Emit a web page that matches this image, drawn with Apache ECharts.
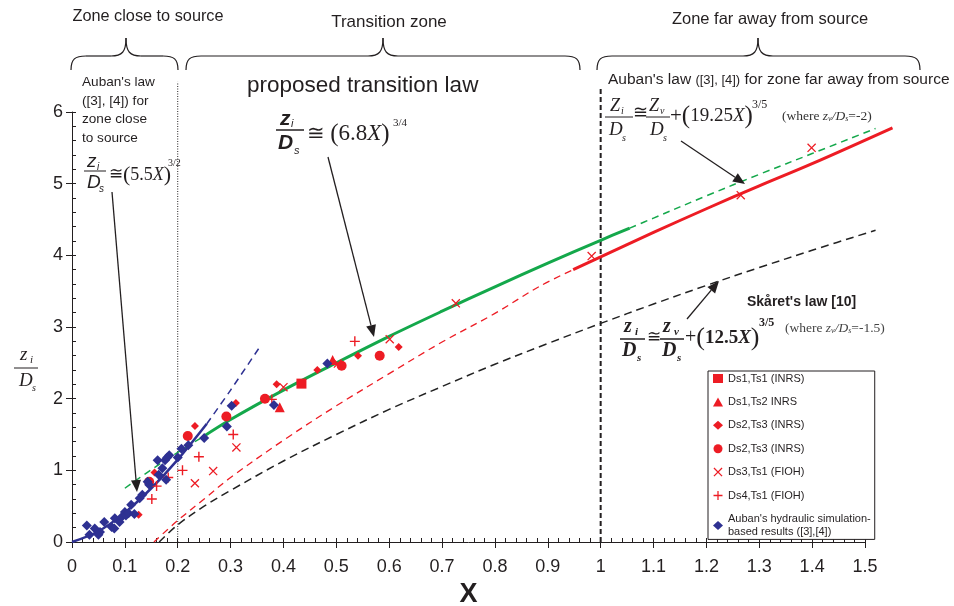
<!DOCTYPE html>
<html>
<head>
<meta charset="utf-8">
<script src="https://cdn.jsdelivr.net/npm/echarts@6/dist/echarts.min.js"></script>
<style>
html, body { margin: 0; padding: 0; background: #fff; }
#chart { width: 954px; height: 606px; }
</style>
</head>
<body>
<div id="chart"></div>
<script>
// ---- values (X, zi/Ds) ----
var xTicks = [0, 1.5, 0.1];
var yTicks = [0, 6, 1];
var zoneLimits = [0.2, 1.0];

// Auban's law, zone close to source (solid part, then dashed continuation)
var aubanNear = [[0, 0], [0.05, 0.15], [0.1, 0.41], [0.15, 0.75], [0.2, 1.15], [0.255, 1.65]];
var aubanNearExt = [[0.255, 1.65], [0.3, 2.12], [0.355, 2.72]];
// proposed transition law
var transLeft = [[0.1, 0.75], [0.15, 1.01], [0.2, 1.25], [0.248, 1.47]];
var transLaw = [[0.248, 1.47], [0.3, 1.71], [0.4, 2.12], [0.5, 2.5], [0.6, 2.87], [0.7, 3.22], [0.8, 3.56], [0.9, 3.89], [1.0, 4.21], [1.055, 4.38]];
var transRight = [[1.055, 4.38], [1.1, 4.52], [1.2, 4.83], [1.3, 5.13], [1.4, 5.42], [1.52, 5.77]];
// Auban's law, zone far away from source
var aubanFarDash = [[0.155, 0], [0.2, 0.3], [0.25, 0.6], [0.3, 0.9], [0.4, 1.42], [0.5, 1.9], [0.6, 2.35], [0.7, 2.79], [0.8, 3.19], [0.885, 3.57], [0.948, 3.8]];
var aubanFar = [[0.948, 3.8], [1.0, 3.98], [1.1, 4.32], [1.2, 4.65], [1.3, 4.97], [1.4, 5.28], [1.552, 5.78]];
// Skaret's law
var skaret = [[0.165, 0], [0.2, 0.24], [0.25, 0.5], [0.3, 0.72], [0.4, 1.13], [0.5, 1.5], [0.6, 1.85], [0.7, 2.17], [0.8, 2.48], [0.9, 2.77], [1.0, 3.05], [1.1, 3.32], [1.2, 3.58], [1.3, 3.83], [1.4, 4.07], [1.52, 4.35]];

// measurements
var ds1ts1 = [[0.434, 2.21]];
var ds1ts2 = [[0.393, 1.88], [0.493, 2.54]];
var ds2ts3Diamond = [[0.126, 0.38], [0.156, 0.97], [0.2325, 1.62], [0.31, 1.94], [0.387, 2.2], [0.464, 2.4], [0.541, 2.6], [0.618, 2.72]];
var ds2ts3Circle = [[0.146, 0.84], [0.219, 1.48], [0.292, 1.75], [0.365, 2.0], [0.51, 2.46], [0.582, 2.6]];
var ds3ts1 = [[0.2325, 0.82], [0.267, 0.99], [0.311, 1.32], [0.4, 2.16], [0.503, 2.49], [0.601, 2.83], [0.726, 3.33], [0.983, 3.99], [1.265, 4.84], [1.399, 5.5]];
var ds4ts1 = [[0.151, 0.6], [0.16, 0.78], [0.182, 0.9], [0.209, 1.0], [0.24, 1.19], [0.305, 1.5], [0.378, 1.99], [0.535, 2.8]];
var aubanSim = [[0.028, 0.23], [0.033, 0.1], [0.043, 0.19], [0.05, 0.1], [0.053, 0.14], [0.061, 0.28], [0.075, 0.21], [0.08, 0.19], [0.081, 0.33], [0.09, 0.28], [0.094, 0.35], [0.1, 0.42], [0.102, 0.37], [0.107, 0.4], [0.112, 0.52], [0.118, 0.39], [0.128, 0.61], [0.133, 0.66], [0.143, 0.84], [0.146, 0.8], [0.162, 1.14], [0.164, 0.94], [0.171, 1.03], [0.176, 1.14], [0.178, 0.87], [0.18, 1.18], [0.184, 1.21], [0.2, 1.18], [0.207, 1.3], [0.22, 1.35], [0.25, 1.45], [0.293, 1.61], [0.302, 1.9], [0.382, 1.91], [0.483, 2.49]];

var legendNames = ['Ds1,Ts1 (INRS)', 'Ds1,Ts2 INRS', 'Ds2,Ts3 (INRS)', 'Ds2,Ts3 (INRS) ', 'Ds3,Ts1 (FIOH)', 'Ds4,Ts1 (FIOH)', "Auban's hydraulic simulation-based results ([3],[4])"];

var sans = 'Liberation Sans, Arial, sans-serif';
var serif = 'Liberation Serif, Times New Roman, serif';
var ink = '#231f20';
var red = '#ed1c24', blue = '#2e3192', green = '#14a84b';

var crossPath = 'path://M0,1L1,0L10,9L9,10Z M9,0L10,1L1,10L0,9Z';
var plusPath = 'path://M4.3,0H5.7V4.3H10V5.7H5.7V10H4.3V5.7H0V4.3H4.3Z';

// curves go past x = 1.5 in the figure, so draw them as custom polylines (not clipped)
function curve(data, color, width, dash) {
    return {
        type: 'custom', data: data, silent: true, z: 2, clip: false,
        renderItem: function (params, api) {
            if (params.dataIndex !== 0) return null;
            var p = data.map(function (d) { return api.coord(d); });
            return {
                type: 'polyline', shape: { points: p, smooth: 0.35 },
                style: { fill: 'none', stroke: color, lineWidth: width, lineDash: dash || null }
            };
        }
    };
}
function pts(name, data, symbol, size, color) {
    return {
        type: 'scatter', name: name, data: data, symbol: symbol, symbolSize: size,
        itemStyle: { color: color, opacity: 1 }, z: 5
    };
}

// ---- annotation helpers (pixels) ----
function txt(x, y, text, size, family, extra) {
    var st = {
        x: x, y: y, text: text, fill: ink, fontSize: size, fontFamily: family,
        align: 'left', verticalAlign: 'middle', textAlign: 'left', textVerticalAlign: 'middle'
    };
    for (var k in extra) st[k] = extra[k];
    if (extra && extra.align) st.textAlign = extra.align;
    return { type: 'text', silent: true, z: 10, style: st };
}
function bar(x1, x2, y, w) {
    return { type: 'line', silent: true, z: 10, shape: { x1: x1, y1: y, x2: x2, y2: y }, style: { stroke: ink, lineWidth: w || 1 } };
}
function bez(x1, y1, c1x, c1y, c2x, c2y, x2, y2) {
    return { type: 'bezierCurve', silent: true, shape: { x1: x1, y1: y1, x2: x2, y2: y2, cpx1: c1x, cpy1: c1y, cpx2: c2x, cpy2: c2y },
        style: { fill: 'none', stroke: ink, lineWidth: 1.2 } };
}
function brace(x1, x2, xm) {
    var yEnd = 70, yBar = 56, yTop = 38, r = 15;
    return [
        bez(x1, yEnd, x1, yBar + 3, x1 + 4, yBar, x1 + r, yBar),
        { type: 'line', silent: true, shape: { x1: x1 + r, y1: yBar, x2: xm - r, y2: yBar }, style: { stroke: ink, lineWidth: 1.2 } },
        bez(xm - r, yBar, xm - 4, yBar, xm, yBar - 4, xm, yTop),
        bez(xm, yTop, xm, yBar - 4, xm + 4, yBar, xm + r, yBar),
        { type: 'line', silent: true, shape: { x1: xm + r, y1: yBar, x2: x2 - r, y2: yBar }, style: { stroke: ink, lineWidth: 1.2 } },
        bez(x2 - r, yBar, x2 - 4, yBar, x2, yBar + 3, x2, yEnd)
    ];
}
function arrow(x1, y1, x2, y2) {
    var a = Math.atan2(y2 - y1, x2 - x1), L = 12, W = 5;
    var bx = x2 - L * Math.cos(a), by = y2 - L * Math.sin(a);
    var px = -Math.sin(a) * W, py = Math.cos(a) * W;
    return [
        { type: 'line', silent: true, z: 10, shape: { x1: x1, y1: y1, x2: bx, y2: by }, style: { stroke: ink, lineWidth: 1.3 } },
        { type: 'polygon', silent: true, z: 10, shape: { points: [[x2, y2], [bx + px, by + py], [bx - px, by - py]] }, style: { fill: ink } }
    ];
}
function paren(o, p, n, bold) {
    var r = {
        o: { fontSize: o, fontFamily: serif },
        p: { fontSize: p, fontFamily: serif },
        n: { fontSize: n, fontFamily: serif },
        x: { fontSize: n, fontFamily: serif, fontStyle: 'italic' }
    };
    if (bold) { r.n.fontWeight = 'bold'; r.x.fontWeight = 'bold'; }
    return { rich: r };
}
var whereRich = {
    a: { fontSize: 13.5, fontFamily: serif },
    i: { fontSize: 13.5, fontFamily: serif, fontStyle: 'italic' },
    s: { fontSize: 8, fontFamily: serif, fontStyle: 'italic', verticalAlign: 'bottom' }
};

var it = { fontStyle: 'italic' };
var bi = { fontStyle: 'italic', fontWeight: 'bold' };
var bd = { fontWeight: 'bold' };

var graphics = [
    txt(148, 17, 'Zone close to source', 16.3, sans, { align: 'center' }),
    txt(389, 22, 'Transition zone', 17, sans, { align: 'center' }),
    txt(770, 19, 'Zone far away from source', 16.5, sans, { align: 'center' }),
    txt(82, 73, "Auban's law\n([3], [4]) for\nzone close\nto source", 13.6, sans, { verticalAlign: 'top', textVerticalAlign: 'top', lineHeight: 18.5 }),
    txt(247, 86, 'proposed transition law', 22.5, sans),
    txt(608, 80, "{a|Auban's law }{b|([3], [4])}{a| for zone far away from source}", 15.5, sans, {
        rich: { a: { fontSize: 15.5, fontFamily: sans }, b: { fontSize: 13, fontFamily: sans } }
    }),
    txt(747, 302, "Skåret's law [10]", 14, sans, bd),

    // formula 1 : close to source
    txt(87, 162, 'z', 19, sans, it), txt(97, 167, 'i', 10, sans, it),
    bar(84, 106, 171, 1),
    txt(87, 183, 'D', 19, sans, it), txt(99, 189, 's', 10, sans, it),
    txt(109, 175, '{o|≅}{p|(}{n|5.5}{x|X}{p|)}', 18, serif, paren(17, 22, 18, false)),
    txt(168, 163, '3/2', 10, serif),

    // formula 2 : transition law
    txt(280, 119, 'z', 21, sans, bi), txt(291, 124, 'i', 11, sans, it),
    bar(276, 304, 130, 1.5),
    txt(278, 143, 'D', 21, sans, bi), txt(294, 151, 's', 11, sans, it),
    txt(307, 134, '{o|≅ }{p|(}{n|6.8}{x|X}{p|)}', 23, serif, paren(21, 25, 23, false)),
    txt(393, 123, '3/4', 11, serif),

    // formula 3 : Auban far
    txt(610, 106, 'Z', 18, serif, it), txt(621, 111, 'i', 10, serif, it),
    bar(605, 633, 117, 1),
    txt(609, 130, 'D', 19, serif, it), txt(622, 138, 's', 10, serif, it),
    txt(633, 113, '≅', 18, serif),
    txt(649, 106, 'Z', 18, serif, it), txt(660, 111, 'v', 10, serif, it),
    bar(646, 670, 117, 1),
    txt(650, 130, 'D', 19, serif, it), txt(663, 138, 's', 10, serif, it),
    txt(670, 116, '{o|+}{p|(}{n|19.25}{x|X}{p|)}', 19, serif, paren(21, 25, 19, false)),
    txt(752, 105, '3/5', 12, serif),
    txt(782, 116, '{a|(where }{i|z}{s|v}{i|/D}{s|s}{a|=-2)}', 13.5, serif, { fill: '#333', rich: whereRich }),

    // formula 4 : Skaret
    txt(624, 327, 'z', 20, serif, bi), txt(635, 332, 'i', 11, serif, bi),
    bar(620, 645, 339, 1.5),
    txt(622, 351, 'D', 20, serif, bi), txt(637, 358, 's', 11, serif, bi),
    txt(647, 338, '≅', 17, serif),
    txt(663, 327, 'z', 20, serif, bi), txt(674, 332, 'v', 11, serif, bi),
    bar(660, 684, 339, 1.5),
    txt(662, 351, 'D', 20, serif, bi), txt(677, 358, 's', 11, serif, bi),
    txt(685, 338, '{o|+}{p|(}{n|12.5}{x|X}{p|)}', 19, serif, paren(20, 26, 19, true)),
    txt(759, 323, '3/5', 12, serif, bd),
    txt(785, 328, '{a|(where }{i|z}{s|v}{i|/D}{s|s}{a|=-1.5)}', 13.5, serif, { fill: '#444', rich: whereRich }),

    // y axis title
    txt(20, 355, 'z', 19, serif, it), txt(30, 360, 'i', 11, serif, it),
    bar(14, 38, 368, 1),
    txt(19, 381, 'D', 19, serif, it), txt(32, 388, 's', 10, serif, it)
].concat(
    brace(71, 178, 126),
    brace(186, 580, 383),
    brace(597, 920, 758),
    arrow(112, 192, 137, 492),
    arrow(328, 157, 374, 337),
    arrow(681, 141, 745, 184),
    arrow(687, 319, 719, 281)
);

var zoneLines = [
    { type: 'line', data: [[zoneLimits[0], 0], [zoneLimits[0], 6.42]], symbol: 'none', clip: false, silent: true, z: 1,
      lineStyle: { color: ink, width: 1, type: [1, 1.5] } },
    { type: 'line', data: [[zoneLimits[1], 0], [zoneLimits[1], 6.33]], symbol: 'none', clip: false, silent: true, z: 1,
      lineStyle: { color: ink, width: 2, type: [5, 3] } }
];

var chart = echarts.init(document.getElementById('chart'));
var option = {
    animation: false,
    backgroundColor: '#fff',
    grid: { left: 72, right: 89, top: 112, bottom: 64, outerBoundsMode: 'none', containLabel: false },
    xAxis: [{
        type: 'value', min: xTicks[0], max: xTicks[1], interval: xTicks[2],
        axisLine: { lineStyle: { color: ink, width: 1 } },
        axisTick: { inside: false, length: 6, lineStyle: { color: ink } },
        axisLabel: { margin: 16, fontSize: 18, fontFamily: sans, color: ink },
        splitLine: { show: false },
        name: 'X', nameLocation: 'middle', nameGap: 38,
        nameTextStyle: { fontSize: 27, fontWeight: 'bold', fontFamily: sans, color: ink }
    }, {
        type: 'value', min: xTicks[0], max: xTicks[1], interval: 0.02, position: 'bottom',
        axisLine: { show: false }, axisLabel: { show: false }, splitLine: { show: false },
        axisTick: { inside: true, length: 4, lineStyle: { color: ink } }
    }],
    yAxis: [{
        type: 'value', min: yTicks[0], max: yTicks[1], interval: yTicks[2],
        axisLine: { show: true, lineStyle: { color: ink, width: 1 } },
        axisTick: { show: true, inside: false, length: 6, lineStyle: { color: ink } },
        axisLabel: { margin: 9, fontSize: 18, fontFamily: sans, color: ink },
        splitLine: { show: false }
    }, {
        type: 'value', min: yTicks[0], max: yTicks[1], interval: 0.2, position: 'left',
        axisLine: { show: false }, axisLabel: { show: false }, splitLine: { show: false },
        axisTick: { show: true, inside: true, length: 4, lineStyle: { color: ink } }
    }],
    legend: {
        orient: 'vertical', left: 708, top: 371,
        itemWidth: 10, itemHeight: 9, itemGap: 10.4,
        padding: [1, 4, 1, 5],
        borderColor: ink, borderWidth: 1, backgroundColor: '#fff',
        textStyle: { fontFamily: sans, fontSize: 11, color: ink, lineHeight: 13 },
        formatter: function (n) { return n.replace('simulation-', 'simulation-\n').trim(); },
        data: legendNames
    },
    graphic: graphics,
    series: zoneLines.concat([
        curve(aubanNear, blue, 2.5),
        curve(aubanNearExt, blue, 1.5, [7, 5]),
        curve(transLeft, green, 1.5, [7, 5]),
        curve(transLaw, green, 3),
        curve(transRight, green, 1.5, [7, 5]),
        curve(aubanFarDash, red, 1.3, [7, 5]),
        curve(aubanFar, red, 3),
        curve(skaret, '#222', 1.5, [8, 5]),
        pts(legendNames[0], ds1ts1, 'rect', 10, red),
        pts(legendNames[1], ds1ts2, 'triangle', 10, red),
        pts(legendNames[2], ds2ts3Diamond, 'diamond', 8, red),
        pts(legendNames[3], ds2ts3Circle, 'circle', 10, red),
        pts(legendNames[4], ds3ts1, crossPath, 9, red),
        pts(legendNames[5], ds4ts1, plusPath, 10, red),
        pts(legendNames[6], aubanSim, 'diamond', 10, blue)
    ])
};
chart.setOption(option);
window.addEventListener('resize', function () { chart.resize(); });
</script>
</body>
</html>
